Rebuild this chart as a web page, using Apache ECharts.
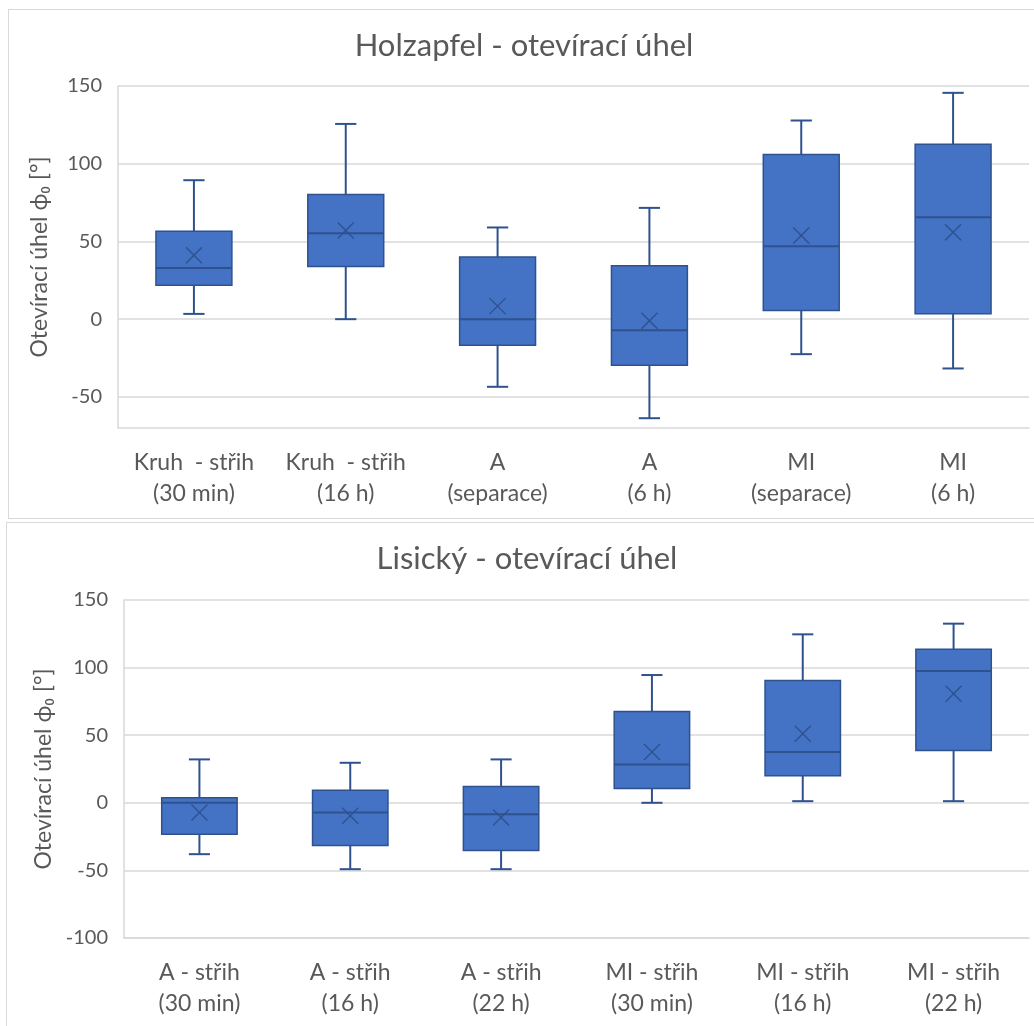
<!DOCTYPE html>
<html lang="cs">

<head>
    <meta charset="UTF-8">
    <title>Otevírací úhel - box plot</title>
    <script src="https://cdn.jsdelivr.net/npm/echarts@6/dist/echarts.min.js"></script>
    <style>
        body {
            margin: 0;
            background: #fff;
            overflow: hidden;
        }

        /* ramecek presahuje doprava mimo obrazek */
        .panel {
            position: absolute;
            border: 1px solid #d9d9d9;
            background: #fff;
            width: 1080px;
        }

        #topPanel {
            left: 8px;
            top: 9px;
            height: 508px;
        }

        #bottomPanel {
            left: 6px;
            top: 522px;
            height: 520px;
        }

        #top {
            width: 1030px;
            height: 508px;
        }

        #bottom {
            width: 1040px;
            height: 520px;
        }
    </style>
</head>

<body>
    <div id="topPanel" class="panel"><div id="top"></div></div>
    <div id="bottomPanel" class="panel"><div id="bottom"></div></div>
</body>
<script>
    // horní graf - Holzapfel
    var topCats = ["Kruh  - střih\n(30 min)", "Kruh  - střih\n(16 h)", "A\n(separace)", "A\n(6 h)", "MI\n(separace)", "MI\n(6 h)"];
    var topMin = [3.4, 0, -43.5, -63.7, -22.5, -31.7];
    var topQ1 = [21.9, 33.9, -16.7, -29.6, 5.6, 3.5];
    var topMedian = [33, 55.3, 0, -7.1, 46.9, 65.6];
    var topQ3 = [56.6, 80.2, 40, 34.3, 105.9, 112.5];
    var topMax = [89.4, 125.6, 59, 71.6, 127.8, 145.6];
    var topMean = [41.2, 57, 8.4, -1, 53.8, 55.9];
    var topTicks = [-50, 0, 50, 100, 150];

    // dolní graf - Lisický
    var botCats = ["A - střih\n(30 min)", "A - střih\n(16 h)", "A - střih\n(22 h)", "MI - střih\n(30 min)", "MI - střih\n(16 h)", "MI - střih\n(22 h)"];
    var botMin = [-38, -49.1, -49.1, 0, 1.2, 1.2];
    var botQ1 = [-23.3, -31.5, -35.2, 10.6, 20, 38.7];
    var botMedian = [0, -7.2, -8.4, 28.3, 37.5, 97.4];
    var botQ3 = [3.8, 9.2, 12, 67.6, 90.5, 113.5];
    var botMax = [32.1, 29.6, 32.1, 94.5, 124.6, 132.5];
    var botMean = [-7.2, -9.6, -10.9, 37.5, 51.1, 80.7];
    var botTicks = [-100, -50, 0, 50, 100, 150];

    var FONT = "Lato";
    var TEXT = "#595959";
    var GRID = "#d9d9d9";
    var FILL = "#4472c4";
    var EDGE = "#2f528f";

    // krabice, vousy a krizek pro prumer
    function drawBox(params, api) {
        var i = api.value(0);
        var band = api.size([1, 0])[0];
        var half = band * 0.25;
        var cap = band * 0.07;
        var m = 8;
        var pMin = api.coord([i, api.value(1)]);
        var pQ1 = api.coord([i, api.value(2)]);
        var pMed = api.coord([i, api.value(3)]);
        var pQ3 = api.coord([i, api.value(4)]);
        var pMax = api.coord([i, api.value(5)]);
        var pMean = api.coord([i, api.value(6)]);
        var x = pMin[0];
        var line = { stroke: EDGE, lineWidth: 2 };
        var thin = { stroke: EDGE, lineWidth: 1.4 };
        return {
            type: "group",
            children: [
                { type: "line", shape: { x1: x, y1: pMax[1], x2: x, y2: pMin[1] }, style: line },
                { type: "line", shape: { x1: x - cap, y1: pMax[1], x2: x + cap, y2: pMax[1] }, style: line },
                { type: "line", shape: { x1: x - cap, y1: pMin[1], x2: x + cap, y2: pMin[1] }, style: line },
                {
                    type: "rect",
                    shape: { x: x - half, y: pQ3[1], width: half * 2, height: pQ1[1] - pQ3[1] },
                    style: { fill: FILL, stroke: EDGE, lineWidth: 1.5 }
                },
                { type: "line", shape: { x1: x - half, y1: pMed[1], x2: x + half, y2: pMed[1] }, style: line },
                { type: "line", shape: { x1: x - m, y1: pMean[1] - m, x2: x + m, y2: pMean[1] + m }, style: thin },
                { type: "line", shape: { x1: x - m, y1: pMean[1] + m, x2: x + m, y2: pMean[1] - m }, style: thin }
            ]
        };
    }

    function makeOption(title, cats, mins, q1, med, q3, maxs, means, ticks, yMin, grid) {
        var rows = cats.map(function (c, i) {
            return [i, mins[i], q1[i], med[i], q3[i], maxs[i], means[i]];
        });
        return {
            animation: false,
            title: {
                text: title,
                left: "center",
                top: grid.titleTop,
                textStyle: { fontFamily: FONT, fontSize: 31, fontWeight: "normal", color: TEXT }
            },
            grid: { left: grid.left, top: grid.top, width: grid.width, height: grid.height },
            xAxis: {
                type: "category",
                data: cats,
                axisLine: { onZero: false, lineStyle: { color: GRID, width: 1.5 } },
                axisTick: { show: false },
                axisLabel: {
                    interval: 0,
                    margin: 19,
                    fontFamily: FONT,
                    fontSize: 23,
                    lineHeight: 31,
                    color: TEXT
                }
            },
            yAxis: {
                type: "value",
                min: yMin,
                max: 150,
                name: "Otevírací úhel ϕ₀ [°]",
                nameLocation: "middle",
                nameGap: 67,
                nameTextStyle: { fontFamily: FONT, fontSize: 23, color: TEXT },
                axisLine: { show: true, lineStyle: { color: GRID, width: 1.5 } },
                axisTick: { show: false, customValues: ticks },
                axisLabel: {
                    customValues: ticks,
                    margin: 16,
                    fontFamily: FONT,
                    fontSize: 20,
                    color: TEXT
                },
                splitLine: { show: true, lineStyle: { color: GRID, width: 1.5 } }
            },
            series: [{
                type: "custom",
                renderItem: drawBox,
                encode: { x: 0, y: [1, 2, 3, 4, 5, 6] },
                data: rows
            }]
        };
    }

    var topChart = echarts.init(document.getElementById("top"));
    topChart.setOption(makeOption("Holzapfel - otevírací úhel", topCats, topMin, topQ1, topMedian, topQ3, topMax, topMean,
        topTicks, -70, { left: 109, top: 76, width: 911, height: 342, titleTop: 15 }));

    var botChart = echarts.init(document.getElementById("bottom"));
    botChart.setOption(makeOption("Lisický - otevírací úhel", botCats, botMin, botQ1, botMedian, botQ3, botMax, botMean,
        botTicks, -100, { left: 117, top: 77, width: 905, height: 338, titleTop: 15 }));
</script>

</html>
